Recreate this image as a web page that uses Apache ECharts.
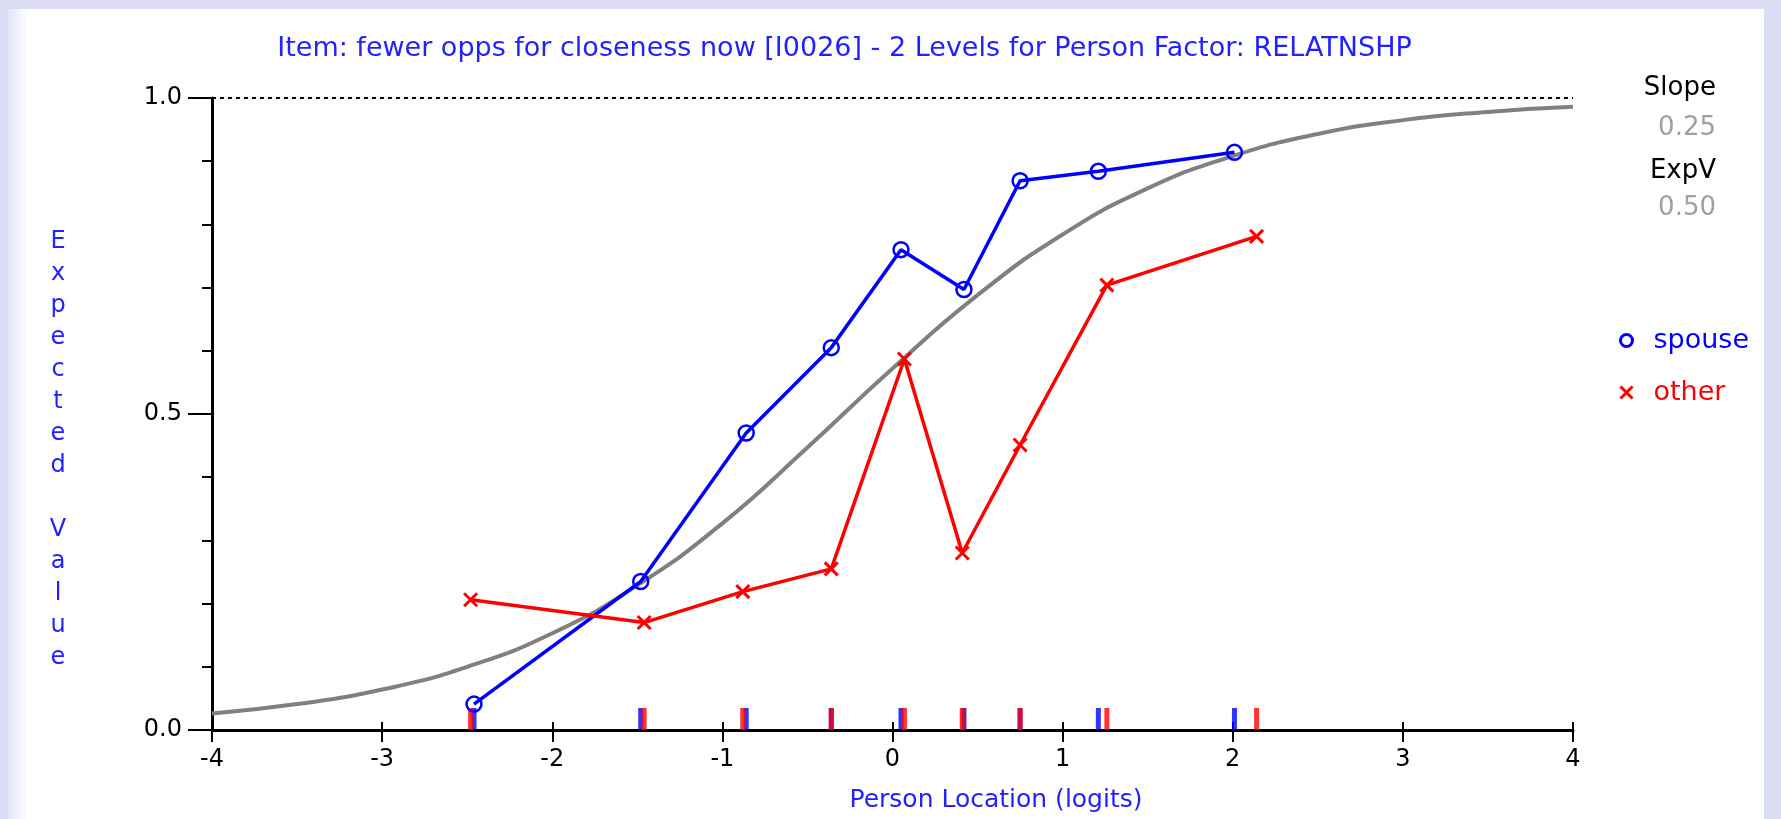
<!DOCTYPE html>
<html>
<head>
<meta charset="utf-8">
<script src="https://cdn.jsdelivr.net/npm/echarts@6/dist/echarts.min.js"></script>
<style>
  html, body { margin: 0; padding: 0; background: #dcdcf5; }
  .panel { position: absolute; left: 8px; top: 9px; width: 1756px; height: 810px;
    background: linear-gradient(to right, #e4e4f7 0px, #ffffff 20px); }
  #chart { position: absolute; left: 0; top: 0; width: 1781px; height: 819px; }
</style>
</head>
<body>
<div class="panel"></div>
<div id="chart"></div>
<script>
// observed class means, spouse group
const spouseLoc = [-2.46, -1.48, -0.86, -0.36, 0.05, 0.42, 0.75, 1.21, 2.01]
const spouseObs = [0.041, 0.235, 0.470, 0.605, 0.760, 0.697, 0.869, 0.884, 0.914]
// observed class means, other group
const otherLoc = [-2.48, -1.46, -0.88, -0.36, 0.07, 0.41, 0.75, 1.26, 2.14]
const otherObs = [0.206, 0.170, 0.219, 0.255, 0.587, 0.280, 0.451, 0.704, 0.781]
// expected value curve
const curveLoc = [-4, -3.5, -3, -2.5, -2, -1.5, -1, -0.5, 0, 0.5, 1, 1.5, 2, 2.5, 3, 3.5, 4]
const curveVal = [0.026, 0.041, 0.064, 0.100, 0.153, 0.229, 0.327, 0.447, 0.572, 0.688, 0.784, 0.857, 0.908, 0.943, 0.965, 0.978, 0.986]
// axes
const xRange = [-4, 4]
const yRange = [0, 1]
const slopeText = '0.25'
const expVText = '0.50'
const yName = 'Expected Value'
const titleText = 'Item: fewer opps for closeness now [I0026] - 2 Levels for Person Factor: RELATNSHP'

const FONT = 'DejaVu Sans'
const BLUE = '#0000ff'
const RED = '#ff0000'
const TXT_BLUE = '#2222ff'

const zip = (a, b) => a.map((v, i) => [v, b[i]])
const crossPath = 'path://M0,0L10,10M10,0L0,10'
const ringPath = 'path://M10,5A5,5,0,1,1,0,5A5,5,0,1,1,10,5Z'

const chart = echarts.init(document.getElementById('chart'))

// 右上角的 Slope / ExpV 文字
const sideText = (text, y, fill) => ({
  type: 'text', x: 1716, y: y,
  style: { text: text, fill: fill, font: '26px "DejaVu Sans"', align: 'right', verticalAlign: 'middle' }
})

const option = {
  animation: false,
  grid: { left: 212, right: 208, top: 98, bottom: 89 },
  legend: {
    orient: 'vertical',
    left: 1619,
    top: 327,
    padding: 0,
    itemWidth: 12,
    itemHeight: 12,
    itemGap: 25,
    selectedMode: false,
    textStyle: { fontFamily: FONT, fontSize: 27, lineHeight: 26, padding: [0, 0, 0, 16] },
    data: [
      { name: 'spouse', icon: ringPath,
        itemStyle: { color: 'rgba(0,0,0,0)', borderColor: BLUE, borderWidth: 3 },
        textStyle: { color: BLUE } },
      { name: 'other', icon: crossPath,
        itemStyle: { color: RED, borderColor: RED, borderWidth: 3 },
        textStyle: { color: RED } }
    ]
  },
  graphic: [
    { type: 'text', x: 844.5, y: 49,
      style: { text: titleText, fill: TXT_BLUE, font: '27px "DejaVu Sans"', align: 'center', verticalAlign: 'middle' } },
    { type: 'text', x: 58, y: 450,
      style: { text: yName.split('').join('\n'), fill: TXT_BLUE, font: '24px "DejaVu Sans"', lineHeight: 32, align: 'center', verticalAlign: 'middle' } },
    sideText('Slope', 88, '#000'),
    sideText(slopeText, 128, '#a0a0a0'),
    sideText('ExpV', 171, '#000'),
    sideText(expVText, 208, '#a0a0a0')
  ],
  xAxis: [
    {
      type: 'value',
      min: xRange[0],
      max: xRange[1],
      interval: 1,
      name: 'Person Location (logits)',
      nameLocation: 'middle',
      nameGap: 58,
      nameTextStyle: { color: TXT_BLUE, fontFamily: FONT, fontSize: 25, padding: [0, 0, 0, 207] },
      axisLine: { lineStyle: { color: '#000', width: 3 } },
      axisTick: { length: 12, lineStyle: { color: '#000', width: 2 } },
      axisLabel: { color: '#000', fontFamily: FONT, fontSize: 24, margin: 18 },
      splitLine: { show: false }
    },
    {
      type: 'value',
      min: xRange[0],
      max: xRange[1],
      interval: 1,
      position: 'bottom',
      axisLine: { show: false },
      axisTick: { inside: true, length: 8, lineStyle: { color: '#000', width: 2 } },
      axisLabel: { show: false },
      splitLine: { show: false }
    }
  ],
  yAxis: {
    type: 'value',
    min: yRange[0],
    max: yRange[1],
    interval: 0.5,
    axisLine: { onZero: false, lineStyle: { color: '#000', width: 3 } },
    axisTick: { length: 24, lineStyle: { color: '#000', width: 2 } },
    minorTick: { show: true, splitNumber: 5, length: 10, lineStyle: { color: '#000', width: 2 } },
    axisLabel: { color: '#000', fontFamily: FONT, fontSize: 24, margin: 30, formatter: v => v.toFixed(1) },
    splitLine: { show: false }
  },
  series: [
    {
      name: 'expected',
      type: 'line',
      data: zip(curveLoc, curveVal),
      smooth: true,
      showSymbol: false,
      lineStyle: { color: '#808080', width: 4 },
      z: 1,
      markLine: {
        silent: true,
        symbol: 'none',
        label: { show: false },
        lineStyle: { color: '#000', type: [4, 4], width: 2 },
        data: [{ yAxis: 1 }]
      }
    },
    {
      name: 'spouse',
      type: 'line',
      data: zip(spouseLoc, spouseObs),
      symbol: 'circle',
      symbolSize: 15,
      lineStyle: { color: BLUE, width: 3.5 },
      itemStyle: { color: 'rgba(0,0,0,0)', borderColor: BLUE, borderWidth: 2.5 },
      z: 3
    },
    {
      name: 'other',
      type: 'line',
      data: zip(otherLoc, otherObs),
      symbol: crossPath,
      symbolSize: 13,
      lineStyle: { color: RED, width: 3.5 },
      itemStyle: { color: RED, borderColor: RED, borderWidth: 3 },
      z: 4
    },
    {
      name: 'spouseRug',
      type: 'scatter',
      data: spouseLoc.map(x => [x, 0]),
      symbol: 'rect',
      symbolSize: [5, 22],
      symbolOffset: [0, '-50%'],
      itemStyle: { color: BLUE },
      clip: false,
      silent: true,
      z: 2
    },
    {
      name: 'otherRug',
      type: 'scatter',
      data: otherLoc.map(x => [x, 0]),
      symbol: 'rect',
      symbolSize: [5, 22],
      symbolOffset: [0, '-50%'],
      itemStyle: { color: RED },
      clip: false,
      silent: true,
      z: 2
    }
  ]
}

chart.setOption(option)
</script>
</body>
</html>
